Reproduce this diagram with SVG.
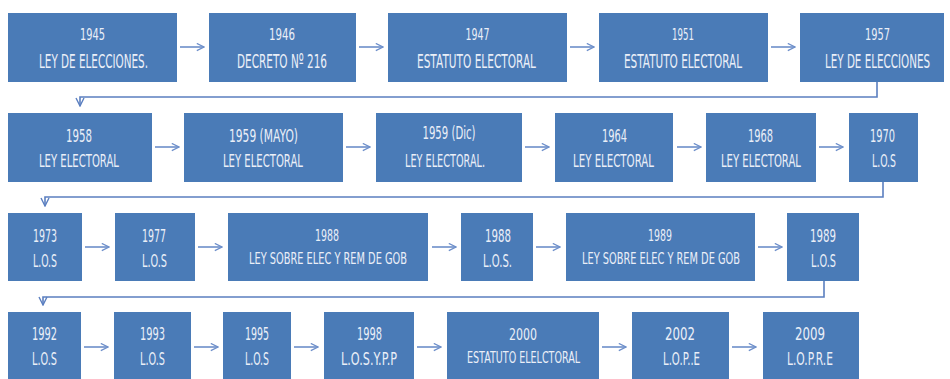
<svg xmlns="http://www.w3.org/2000/svg" width="950" height="379" viewBox="0 0 950 379">
<defs>
<marker id="ah" viewBox="0 0 10 10" refX="9" refY="5" markerWidth="9" markerHeight="9" markerUnits="userSpaceOnUse" orient="auto">
<path d="M1,1 L9,5 L1,9" fill="none" stroke="#6d8fca" stroke-width="1.4"/>
</marker>
<marker id="ah2" viewBox="0 0 10 10" refX="9" refY="5" markerWidth="10" markerHeight="10" markerUnits="userSpaceOnUse" orient="auto">
<path d="M1,1 L9,5 L1,9" fill="none" stroke="#5b7fc0" stroke-width="1.4"/>
</marker>
</defs>
<style>
.b{fill:#4a7bb7;}
text{font-family:"DejaVu Sans","Liberation Sans",sans-serif;fill:#eaeff8;text-anchor:middle;font-size:17px;}
.y1{font-size:15px;}
.big{font-size:20px;}
.sm{font-size:15px;}
.a{stroke:#6d8fca;stroke-width:1.6;fill:none;marker-end:url(#ah);}
.c{stroke:#5b7fc0;stroke-width:1.6;fill:none;marker-end:url(#ah2);}
</style>
<rect width="950" height="379" fill="#ffffff"/>
<g id="n1945"><rect class="b" x="8" y="13" width="169" height="69"/><text class="y1" x="92.5" y="40" textLength="25" lengthAdjust="spacingAndGlyphs">1945</text><text class="big" x="93.5" y="68" textLength="109" lengthAdjust="spacingAndGlyphs">LEY DE ELECCIONES.</text></g>
<g id="n1946"><rect class="b" x="209" y="13" width="147" height="69"/><text class="y1" x="282" y="40" textLength="26" lengthAdjust="spacingAndGlyphs">1946</text><text class="big" x="282" y="68" textLength="90" lengthAdjust="spacingAndGlyphs">DECRETO  Nº 216</text></g>
<g id="n1947"><rect class="b" x="388" y="13" width="179" height="69"/><text class="y1" x="477.5" y="40" textLength="24" lengthAdjust="spacingAndGlyphs">1947</text><text class="big" x="476.5" y="68" textLength="119" lengthAdjust="spacingAndGlyphs">ESTATUTO  ELECTORAL</text></g>
<g id="n1951"><rect class="b" x="599" y="13" width="169" height="69"/><text class="y1" x="683" y="40" textLength="22" lengthAdjust="spacingAndGlyphs">1951</text><text class="big" x="683" y="68" textLength="118" lengthAdjust="spacingAndGlyphs">ESTATUTO  ELECTORAL</text></g>
<g id="n1957"><rect class="b" x="800" y="13" width="144" height="69"/><text class="y1" x="877.5" y="40" textLength="25" lengthAdjust="spacingAndGlyphs">1957</text><text class="big" x="877.5" y="68" textLength="105" lengthAdjust="spacingAndGlyphs">LEY DE ELECCIONES</text></g>

<g id="n1958"><rect class="b" x="8" y="113" width="144" height="69"/><text x="79" y="142" textLength="26" lengthAdjust="spacingAndGlyphs">1958</text><text x="79" y="167" textLength="80" lengthAdjust="spacingAndGlyphs">LEY ELECTORAL</text></g>
<g id="n1959m"><rect class="b" x="184" y="113" width="159" height="69"/><text x="263.5" y="142" textLength="69" lengthAdjust="spacingAndGlyphs">1959 (MAYO)</text><text x="263" y="167" textLength="80" lengthAdjust="spacingAndGlyphs">LEY ELECTORAL</text></g>
<g id="n1959d"><rect class="b" x="376" y="113" width="146" height="69"/><text x="449" y="139" textLength="53" lengthAdjust="spacingAndGlyphs">1959 (Dic)</text><text x="445" y="167" textLength="80" lengthAdjust="spacingAndGlyphs">LEY ELECTORAL.</text></g>
<g id="n1964"><rect class="b" x="555" y="113" width="118" height="69"/><text x="614.5" y="142" textLength="25" lengthAdjust="spacingAndGlyphs">1964</text><text x="613.5" y="167" textLength="81" lengthAdjust="spacingAndGlyphs">LEY ELECTORAL</text></g>
<g id="n1968"><rect class="b" x="706" y="113" width="110" height="69"/><text x="760.5" y="142" textLength="25" lengthAdjust="spacingAndGlyphs">1968</text><text x="761" y="167" textLength="80" lengthAdjust="spacingAndGlyphs">LEY ELECTORAL</text></g>
<g id="n1970"><rect class="b" x="849" y="113" width="69" height="69"/><text x="882.5" y="142" textLength="25" lengthAdjust="spacingAndGlyphs">1970</text><text x="884" y="167" textLength="24" lengthAdjust="spacingAndGlyphs">L.O.S</text></g>

<g id="n1973"><rect class="b" x="8" y="213" width="74" height="68"/><text x="45" y="242" textLength="24" lengthAdjust="spacingAndGlyphs">1973</text><text x="45" y="267" textLength="24" lengthAdjust="spacingAndGlyphs">L.O.S</text></g>
<g id="n1977"><rect class="b" x="115" y="213" width="80" height="68"/><text x="154" y="242" textLength="24" lengthAdjust="spacingAndGlyphs">1977</text><text x="154.5" y="267" textLength="25" lengthAdjust="spacingAndGlyphs">L.O.S</text></g>
<g id="n1988a"><rect class="b" x="228" y="213" width="200" height="68"/><text class="sm" x="327" y="241" textLength="24" lengthAdjust="spacingAndGlyphs">1988</text><text class="sm" x="328" y="264" textLength="158" lengthAdjust="spacingAndGlyphs">LEY SOBRE ELEC Y REM DE GOB</text></g>
<g id="n1988b"><rect class="b" x="461" y="213" width="72" height="68"/><text x="498" y="242" textLength="26" lengthAdjust="spacingAndGlyphs">1988</text><text x="497.5" y="267" textLength="29" lengthAdjust="spacingAndGlyphs">L.O.S.</text></g>
<g id="n1989a"><rect class="b" x="566" y="213" width="189" height="68"/><text class="sm" x="660" y="241" textLength="24" lengthAdjust="spacingAndGlyphs">1989</text><text class="sm" x="661" y="264" textLength="158" lengthAdjust="spacingAndGlyphs">LEY SOBRE ELEC Y REM DE GOB</text></g>
<g id="n1989b"><rect class="b" x="787" y="213" width="72" height="68"/><text x="823" y="242" textLength="26" lengthAdjust="spacingAndGlyphs">1989</text><text x="823.5" y="267" textLength="25" lengthAdjust="spacingAndGlyphs">L.O.S</text></g>

<g id="n1992"><rect class="b" x="8" y="312" width="73" height="68"/><text x="44.5" y="340" textLength="25" lengthAdjust="spacingAndGlyphs">1992</text><text x="44.5" y="365" textLength="25" lengthAdjust="spacingAndGlyphs">L.O.S</text></g>
<g id="n1993"><rect class="b" x="114" y="312" width="77" height="68"/><text x="152.5" y="340" textLength="25" lengthAdjust="spacingAndGlyphs">1993</text><text x="152.5" y="365" textLength="25" lengthAdjust="spacingAndGlyphs">L.O.S</text></g>
<g id="n1995"><rect class="b" x="223" y="312" width="68" height="68"/><text x="257" y="340" textLength="24" lengthAdjust="spacingAndGlyphs">1995</text><text x="257" y="365" textLength="24" lengthAdjust="spacingAndGlyphs">L.O.S</text></g>
<g id="n1998"><rect class="b" x="324" y="312" width="90" height="68"/><text x="369.5" y="340" textLength="25" lengthAdjust="spacingAndGlyphs">1998</text><text x="369" y="365" textLength="56" lengthAdjust="spacingAndGlyphs">L.O.S.Y.P.P</text></g>
<g id="n2000"><rect class="b" x="447" y="312" width="152" height="68"/><text class="sm" x="523" y="340" textLength="28" lengthAdjust="spacingAndGlyphs">2000</text><text class="sm" x="523.5" y="363" textLength="113" lengthAdjust="spacingAndGlyphs">ESTATUTO  ELELCTORAL</text></g>
<g id="n2002"><rect class="b" x="632" y="312" width="97" height="68"/><text x="680" y="340" textLength="30" lengthAdjust="spacingAndGlyphs">2002</text><text x="681.5" y="365" textLength="37" lengthAdjust="spacingAndGlyphs">L.O.P..E</text></g>
<g id="n2009"><rect class="b" x="763" y="312" width="96" height="68"/><text x="810" y="340" textLength="30" lengthAdjust="spacingAndGlyphs">2009</text><text x="810" y="365" textLength="46" lengthAdjust="spacingAndGlyphs">L.O.P.R.E</text></g>

<g id="connectors">
<path class="a" d="M180,47 H204"/>
<path class="a" d="M359,47 H383"/>
<path class="a" d="M570,47 H594"/>
<path class="a" d="M771,47 H795"/>
<path class="c" d="M877,82 V97 H80 V106"/>
<path class="a" d="M155,147 H179"/>
<path class="a" d="M346,147 H370"/>
<path class="a" d="M525,147 H549"/>
<path class="a" d="M677,147 H701"/>
<path class="a" d="M819,147 H843"/>
<path class="c" d="M883,182 V197 H45 V206"/>
<path class="a" d="M85,247 H109"/>
<path class="a" d="M198,247 H222"/>
<path class="a" d="M432,247 H456"/>
<path class="a" d="M536,247 H560"/>
<path class="a" d="M758,247 H782"/>
<path class="c" d="M824,281 V297 H43 V305"/>
<path class="a" d="M84,347 H108"/>
<path class="a" d="M194,347 H218"/>
<path class="a" d="M294,347 H318"/>
<path class="a" d="M417,347 H441"/>
<path class="a" d="M602,347 H626"/>
<path class="a" d="M732,347 H756"/>
</g>
</svg>
